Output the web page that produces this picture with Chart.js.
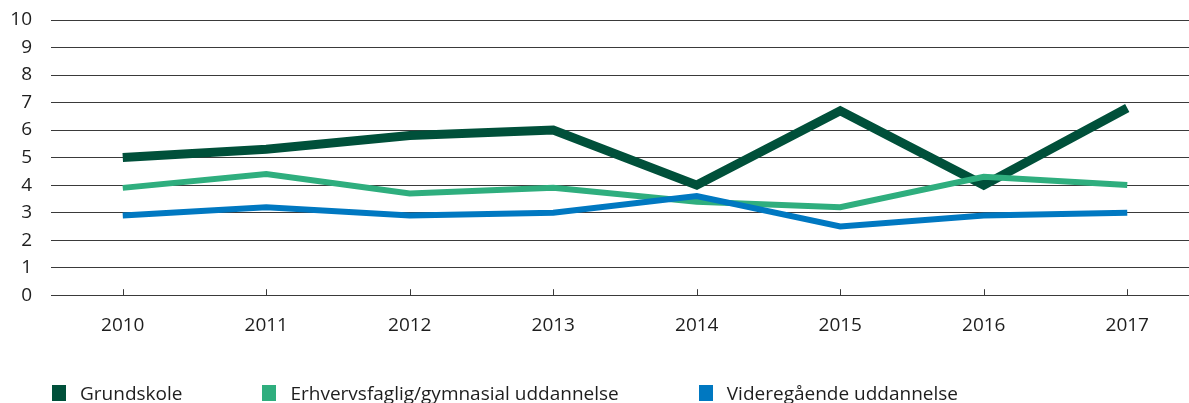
<!DOCTYPE html>
<html>
<head>
<meta charset="utf-8">
<script src="https://cdn.jsdelivr.net/npm/chart.js@4"></script>
<style>
  html, body { margin: 0; padding: 0; background: #fff; overflow: hidden; }
  #wrap { position: relative; width: 1199px; height: 403px; }
  #legend {
    position: absolute; left: 52px; top: 382px;
    display: flex; align-items: center;
    font-family: 'Open Sans', sans-serif; font-size: 19px; line-height: 22px; color: #1e1e1e;
    white-space: nowrap;
  }
  #legend .item { display: flex; align-items: center; margin-right: 80px; }
  #legend .box { width: 14px; height: 16px; margin-right: 14px; }
</style>
</head>
<body>
<div id="wrap">
  <canvas id="chart"></canvas>
  <div id="legend"></div>
</div>
<script>
// Data
const years = ['2010', '2011', '2012', '2013', '2014', '2015', '2016', '2017'];
const grundskole = [5.0, 5.3, 5.8, 6.0, 4.0, 6.7, 4.0, 6.8];
const erhvervsfaglig = [3.9, 4.4, 3.7, 3.9, 3.4, 3.2, 4.3, 4.0];
const videregaaende = [2.9, 3.2, 2.9, 3.0, 3.6, 2.5, 2.9, 3.0];

const colors = {
    dark: '#00503a',
    green: '#2fae7e',
    blue: '#0078c1',
    grid: '#3a3a3a',
    text: '#1e1e1e'
};

Chart.defaults.font.family = "'Open Sans', sans-serif";
Chart.defaults.color = colors.text;

// small tick marks at each category, sitting on the x axis
const axisTicks = {
    id: 'axisTicks',
    afterDatasetsDraw(chart) {
        const x = chart.scales.x;
        const bottom = chart.chartArea.bottom;
        const ctx = chart.ctx;
        ctx.save();
        ctx.strokeStyle = colors.grid;
        ctx.lineWidth = 1;
        x.ticks.forEach((t, i) => {
            const px = Math.round(x.getPixelForTick(i)) + 0.5;
            ctx.beginPath();
            ctx.moveTo(px, bottom - 6);
            ctx.lineTo(px, bottom);
            ctx.stroke();
        });
        ctx.restore();
    }
};

// html legend built from the datasets
const htmlLegend = {
    id: 'htmlLegend',
    afterUpdate(chart) {
        const el = document.getElementById('legend');
        el.innerHTML = '';
        chart.data.datasets.forEach(ds => {
            const item = document.createElement('div');
            item.className = 'item';
            const box = document.createElement('span');
            box.className = 'box';
            box.style.background = ds.borderColor;
            const txt = document.createElement('span');
            txt.textContent = ds.label;
            item.appendChild(box);
            item.appendChild(txt);
            el.appendChild(item);
        });
    }
};

const line = (label, data, color, width, order) => ({
    label, data, order,
    borderColor: color,
    backgroundColor: color,
    borderWidth: width,
    borderJoinStyle: 'miter',
    tension: 0,
    pointRadius: 0,
    fill: false
});

new Chart(document.getElementById('chart'), {
    type: 'line',
    data: {
        labels: years,
        datasets: [
            line('Grundskole', grundskole, colors.dark, 9, 3),
            line('Erhvervsfaglig/gymnasial uddannelse', erhvervsfaglig, colors.green, 6, 2),
            line('Videregående uddannelse', videregaaende, colors.blue, 6, 1)
        ]
    },
    options: {
        responsive: true,
        maintainAspectRatio: false,
        animation: false,
        layout: { padding: { left: 0, right: 0, top: 0, bottom: 47 } },
        plugins: {
            tooltip: { enabled: false },
            legend: { display: false }
        },
        scales: {
            x: {
                offset: true,
                grid: { display: false, drawTicks: false },
                border: { display: false },
                ticks: { padding: 19, font: { size: 19 }, color: colors.text }
            },
            y: {
                min: 0,
                max: 10,
                afterFit(scale) {
                    scale.width = 51;
                    scale.paddingTop = 20;
                },
                ticks: { stepSize: 1, autoSkip: false, padding: 19, font: { size: 19 }, color: colors.text },
                grid: { color: colors.grid, lineWidth: 1, drawTicks: false },
                border: { display: false }
            }
        }
    },
    plugins: [axisTicks, htmlLegend]
});
</script>
</body>
</html>
